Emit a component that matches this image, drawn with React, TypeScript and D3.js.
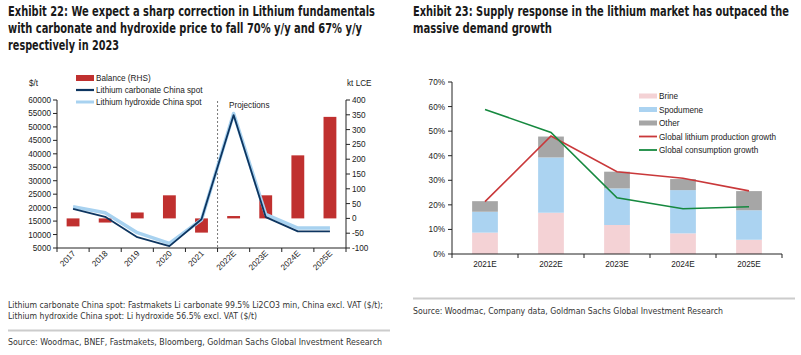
import React from 'react';
import * as d3 from 'd3';

// ---------- Data: Exhibit 22 ----------
const leftCategories = ['2017', '2018', '2019', '2020', '2021', '2022E', '2023E', '2024E', '2025E'];
const balanceKt = [-27, -14, 20, 78, -48, 8, 78, 213, 343];
const carbonateSpot = [19500, 16600, 9000, 5700, 15700, 54400, 16500, 11200, 11200];
const hydroxideSpot = [20300, 18100, 10700, 6750, 15500, 55000, 17500, 12400, 12400];
const leftAxisTicks = [5000, 10000, 15000, 20000, 25000, 30000, 35000, 40000, 45000, 50000, 55000, 60000];
const rightAxisTicks = [-100, -50, 0, 50, 100, 150, 200, 250, 300, 350, 400];

// ---------- Data: Exhibit 23 ----------
const rightCategories = ['2021E', '2022E', '2023E', '2024E', '2025E'];
const brine = [8.7, 16.8, 11.8, 8.4, 5.8];
const spodumene = [8.5, 22.5, 14.9, 17.6, 12.0];
const other = [4.3, 8.5, 6.8, 4.5, 7.8];
const productionGrowth = [21.3, 48.0, 33.5, 30.8, 25.7];
const consumptionGrowth = [58.8, 49.5, 22.9, 18.4, 19.2];
const pctTicks = [0, 10, 20, 30, 40, 50, 60, 70];

const SANS = "'Liberation Sans', Arial, sans-serif";
const NARROW = "'Liberation Sans Narrow', 'Arial Narrow', 'DejaVu Sans Condensed', 'Liberation Sans', sans-serif";

const RED = '#c0302f';
const NAVY = '#0d3560';
const LIGHTBLUE = '#a8d2f0';
const TEXT = '#222';

const BRINE_C = '#f4d2d5';
const SPOD_C = '#abd3f1';
const OTHER_C = '#a6a6a6';
const PROD_C = '#c9383a';
const CONS_C = '#16893f';

function Title({ x, y, lines }: { x: number; y: number; lines: { t: string; w: number }[] }) {
  return (
    <g>
      {lines.map((l, i) => (
        <text key={i} x={x} y={y + i * 17} fontFamily={NARROW} fontWeight="bold" fontSize={13.5}
          fill="#1a1a1a" textLength={l.w} lengthAdjust="spacingAndGlyphs">{l.t}</text>
      ))}
    </g>
  );
}

function LeftChart() {
  const x = d3.scaleBand<string>().domain(leftCategories).range([57, 346]).padding(0);
  const bw = x.bandwidth();
  const cx = (c: string) => (x(c) as number) + bw / 2;
  const yL = d3.scaleLinear().domain([5000, 60000]).range([248, 100]);
  const yR = d3.scaleLinear().domain([-100, 400]).range([248, 100]);
  const barW = bw * 0.4;

  const carbLine = d3.line<number>().x((_, i) => cx(leftCategories[i])).y(d => yL(d));
  const hydLine = d3.line<number>().x((_, i) => cx(leftCategories[i])).y(d => yL(d));

  const projX = x('2022E') as number;

  return (
    <g>
      {/* legend */}
      <rect x={76} y={75} width={18} height={6} fill={RED} />
      <text x={96} y={80.5} fontFamily={SANS} fontSize={8.2} fill={TEXT}>Balance (RHS)</text>
      <line x1={76} x2={94} y1={90} y2={90} stroke={NAVY} strokeWidth={2.2} />
      <text x={96} y={93} fontFamily={SANS} fontSize={8.2} fill={TEXT}>Lithium carbonate China spot</text>
      <line x1={76} x2={94} y1={102} y2={102} stroke={LIGHTBLUE} strokeWidth={3} />
      <text x={96} y={105} fontFamily={SANS} fontSize={8.2} fill={TEXT}>Lithium hydroxide China spot</text>

      {/* axis titles */}
      <text x={29} y={86} fontFamily={SANS} fontSize={8.2} fill={TEXT}>$/t</text>
      <text x={347} y={86} fontFamily={SANS} fontSize={8.2} fill={TEXT}>kt LCE</text>

      {/* bars */}
      {balanceKt.map((v, i) => {
        const c = cx(leftCategories[i]);
        const y0 = yR(0), y1 = yR(v);
        return <rect key={i} x={c - barW / 2} y={Math.min(y0, y1)} width={barW} height={Math.abs(y1 - y0)} fill={RED} />;
      })}

      {/* projections divider */}
      <line x1={projX} x2={projX} y1={101} y2={248} stroke="#555" strokeWidth={0.8} strokeDasharray="2,2" />
      <text x={229} y={108} fontFamily={SANS} fontSize={8.2} fill={TEXT}>Projections</text>

      {/* lines */}
      <path d={hydLine(hydroxideSpot) || ''} fill="none" stroke={LIGHTBLUE} strokeWidth={3.5} strokeLinejoin="round" />
      <path d={carbLine(carbonateSpot) || ''} fill="none" stroke={NAVY} strokeWidth={1.8} strokeLinejoin="round" />

      {/* left axis */}
      <line x1={57} x2={57} y1={100} y2={248} stroke="#222" strokeWidth={1} />
      {leftAxisTicks.map(t => (
        <g key={t}>
          <line x1={53} x2={57} y1={yL(t)} y2={yL(t)} stroke="#222" />
          <text x={51} y={yL(t) + 3} textAnchor="end" fontFamily={SANS} fontSize={8.2} fill={TEXT}>{t}</text>
        </g>
      ))}
      {/* right axis */}
      <line x1={346} x2={346} y1={100} y2={248} stroke="#222" strokeWidth={1} />
      {rightAxisTicks.map(t => (
        <g key={t}>
          <line x1={346} x2={350} y1={yR(t)} y2={yR(t)} stroke="#222" />
          <text x={352} y={yR(t) + 3} fontFamily={SANS} fontSize={8.2} fill={TEXT}>{t}</text>
        </g>
      ))}
      {/* x axis */}
      <line x1={57} x2={346} y1={248} y2={248} stroke="#222" strokeWidth={1} />
      {leftCategories.map((c, i) => (
        <line key={'t' + i} x1={x(c) as number} x2={x(c) as number} y1={248} y2={252} stroke="#222" />
      ))}
      <line x1={346} x2={346} y1={248} y2={252} stroke="#222" />
      {leftCategories.map(c => (
        <text key={c} transform={`translate(${cx(c) + 3},${254}) rotate(-45)`} textAnchor="end"
          fontFamily={SANS} fontSize={8.2} fill={TEXT}>{c}</text>
      ))}
    </g>
  );
}

function RightChart() {
  const x = d3.scaleBand<string>().domain(rightCategories).range([452, 782]).padding(0);
  const bw = x.bandwidth();
  const cx = (c: string) => (x(c) as number) + bw / 2;
  const y = d3.scaleLinear().domain([0, 70]).range([254, 82]);
  const barW = bw * 0.39;

  const rows = rightCategories.map((c, i) => ({ cat: c, brine: brine[i], spodumene: spodumene[i], other: other[i] }));
  const keys = ['brine', 'spodumene', 'other'];
  const colors: Record<string, string> = { brine: BRINE_C, spodumene: SPOD_C, other: OTHER_C };
  const stacked = d3.stack<any>().keys(keys)(rows);

  const line = d3.line<number>().x((_, i) => cx(rightCategories[i])).y(d => y(d));

  const legend = [
    { label: 'Brine', type: 'rect', color: BRINE_C },
    { label: 'Spodumene', type: 'rect', color: SPOD_C },
    { label: 'Other', type: 'rect', color: OTHER_C },
    { label: 'Global lithium production growth', type: 'line', color: PROD_C },
    { label: 'Global consumption growth', type: 'line', color: CONS_C },
  ];

  return (
    <g>
      {stacked.map(s => (
        <g key={s.key}>
          {s.map((d, i) => (
            <rect key={i} x={cx(rightCategories[i]) - barW / 2} y={y(d[1])} width={barW}
              height={y(d[0]) - y(d[1])} fill={colors[s.key]} />
          ))}
        </g>
      ))}
      <path d={line(productionGrowth) || ''} fill="none" stroke={PROD_C} strokeWidth={1.6} />
      <path d={line(consumptionGrowth) || ''} fill="none" stroke={CONS_C} strokeWidth={1.6} />

      {/* y axis */}
      <line x1={452} x2={452} y1={82} y2={254} stroke="#222" />
      {pctTicks.map(t => (
        <g key={t}>
          <line x1={448} x2={452} y1={y(t)} y2={y(t)} stroke="#222" />
          <text x={445} y={y(t) + 3} textAnchor="end" fontFamily={SANS} fontSize={8.2} fill={TEXT}>{t}%</text>
        </g>
      ))}
      {/* x axis */}
      <line x1={452} x2={782} y1={254} y2={254} stroke="#222" />
      {rightCategories.map((c, i) => (
        <line key={'t' + i} x1={x(c) as number} x2={x(c) as number} y1={254} y2={258} stroke="#222" />
      ))}
      <line x1={782} x2={782} y1={254} y2={258} stroke="#222" />
      {rightCategories.map(c => (
        <text key={c} x={cx(c)} y={267} textAnchor="middle" fontFamily={SANS} fontSize={8.2} fill={TEXT}>{c}</text>
      ))}

      {/* legend */}
      {legend.map((l, i) => {
        const ly = 96 + i * 13.5;
        return (
          <g key={l.label}>
            {l.type === 'rect'
              ? <rect x={639} y={ly - 2.5} width={18} height={5} fill={l.color} />
              : <line x1={639} x2={657} y1={ly} y2={ly} stroke={l.color} strokeWidth={1.8} />}
            <text x={659} y={ly + 3} fontFamily={SANS} fontSize={8.2} fill={TEXT}>{l.label}</text>
          </g>
        );
      })}
    </g>
  );
}

export default function App() {
  return (
    <svg width={801} height={355} style={{ position: 'absolute', left: 0, top: 0, background: '#fff' }}>
      <rect width={801} height={355} fill="#fff" />
      <Title x={8} y={16} lines={[
        { t: 'Exhibit 22: We expect a sharp correction in Lithium fundamentals', w: 367 },
        { t: 'with carbonate and hydroxide price to fall 70% y/y and 67% y/y', w: 354 },
        { t: 'respectively in 2023', w: 111 },
      ]} />
      <Title x={413} y={16} lines={[
        { t: 'Exhibit 23: Supply response in the lithium market has outpaced the', w: 376 },
        { t: 'massive demand growth', w: 139 },
      ]} />

      <LeftChart />
      <RightChart />

      {/* left footnotes */}
      <text x={8} y={308} fontFamily={NARROW} fontSize={9} fill="#333" textLength={375} lengthAdjust="spacingAndGlyphs">
        Lithium carbonate China spot: Fastmakets Li carbonate 99.5% Li2CO3 min, China excl. VAT ($/t);
      </text>
      <text x={8} y={319} fontFamily={NARROW} fontSize={9} fill="#333" textLength={249} lengthAdjust="spacingAndGlyphs">
        Lithium hydroxide China spot: Li hydroxide 56.5% excl. VAT ($/t)
      </text>
      <line x1={8} x2={390} y1={330.5} y2={330.5} stroke="#cccccc" strokeWidth={2} />
      <text x={8} y={345} fontFamily={NARROW} fontSize={9} fill="#333" textLength={374} lengthAdjust="spacingAndGlyphs">
        Source: Woodmac, BNEF, Fastmakets, Bloomberg, Goldman Sachs Global Investment Research
      </text>

      {/* right footnote */}
      <line x1={413} x2={795} y1={298.5} y2={298.5} stroke="#cccccc" strokeWidth={2} />
      <text x={413} y={314} fontFamily={NARROW} fontSize={9} fill="#333" textLength={310} lengthAdjust="spacingAndGlyphs">
        Source: Woodmac, Company data, Goldman Sachs Global Investment Research
      </text>
    </svg>
  );
}
